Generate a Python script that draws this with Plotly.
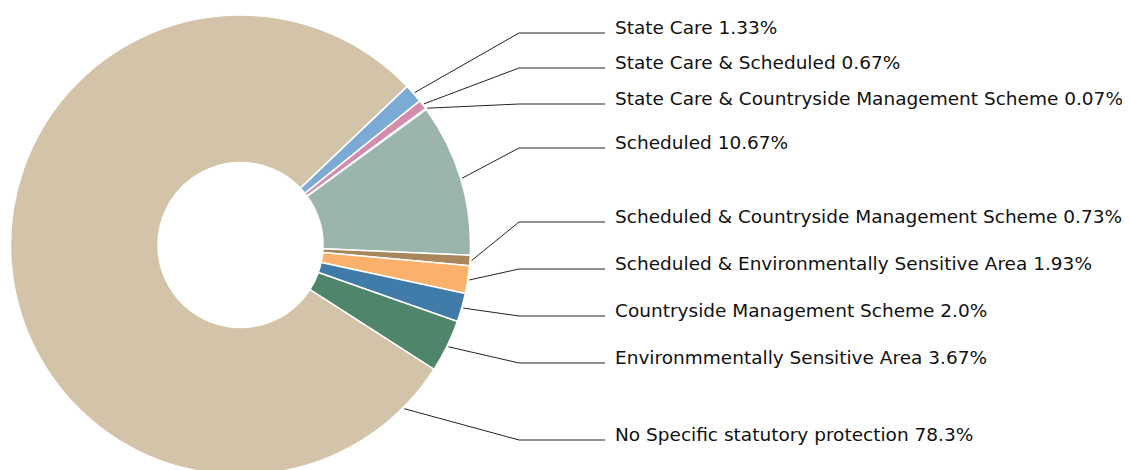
import math
import plotly.graph_objects as go

# ---- data ----
categories = [
    "State Care",
    "State Care & Scheduled",
    "State Care & Countryside Management Scheme",
    "Scheduled",
    "Scheduled & Countryside Management Scheme",
    "Scheduled & Environmentally Sensitive Area",
    "Countryside Management Scheme",
    "Environmmentally Sensitive Area",
    "No Specific statutory protection",
]
pct_labels = ["1.33", "0.67", "0.07", "10.67", "0.73", "1.93", "2.0", "3.67", "78.3"]
values = [float(v) for v in pct_labels]
colors = ["#7BAAD5", "#D48BB0", "#9C87B8", "#9BB5AD", "#A8875C",
          "#FBB16B", "#407BAA", "#4F856A", "#D3C3A8"]

# ---- layout constants (pixels, page coords; page body has 8px margin) ----
W, H = 1130, 470
OFF = 8
CX, CY, R = 240.5 - OFF, 245 - OFF, 230
HOLE = 82.5 / R
ROTATION = 46.4
label_line_y = [33, 68, 104, 148, 222, 269, 316, 363, 440]
anchor_override = {8: 135.0}   # leader anchor angle for the large slice
ELBOW_X, LINE_END_X, TEXT_X = 519, 605, 613


def px(x):
    return x / W


def py(y):
    return 1 - y / H


fig = go.Figure(go.Pie(
    labels=categories,
    values=values,
    hole=HOLE,
    sort=False,
    direction="clockwise",
    rotation=ROTATION,
    marker=dict(colors=colors, line=dict(color="white", width=1.5)),
    textinfo="none",
    hoverinfo="label+percent",
    domain=dict(x=[px(CX - R), px(CX + R)], y=[py(CY + R), py(CY - R)]),
    showlegend=False,
))

total = sum(values)
shapes, annotations = [], []
cum = 0.0
for i, (name, v, lab) in enumerate(zip(categories, values, pct_labels)):
    a0 = ROTATION + cum / total * 360
    cum += v
    a1 = ROTATION + cum / total * 360
    ang = anchor_override.get(i, (a0 + a1) / 2)
    rad = math.radians(ang)
    sx = CX + (R + 1.5) * math.sin(rad)
    sy = CY - (R + 1.5) * math.cos(rad)
    ly = label_line_y[i] - OFF
    path = (f"M {px(sx)},{py(sy)} L {px(ELBOW_X - OFF)},{py(ly)} "
            f"L {px(LINE_END_X - OFF)},{py(ly)}")
    shapes.append(dict(type="path", path=path, xref="paper", yref="paper",
                       line=dict(color="#222222", width=1)))
    annotations.append(dict(
        x=px(TEXT_X - OFF), y=py(ly - 5.5), xref="paper", yref="paper",
        xanchor="left", yanchor="middle", showarrow=False,
        text=f"{name} {lab}%",
        font=dict(family="DejaVu Sans, sans-serif", size=18.5,
                  color="#111111"),
    ))

fig.update_layout(
    width=W, height=H,
    margin=dict(l=0, r=0, t=0, b=0),
    paper_bgcolor="white",
    plot_bgcolor="white",
    shapes=shapes,
    annotations=annotations,
)

fig.write_html("out.html")
